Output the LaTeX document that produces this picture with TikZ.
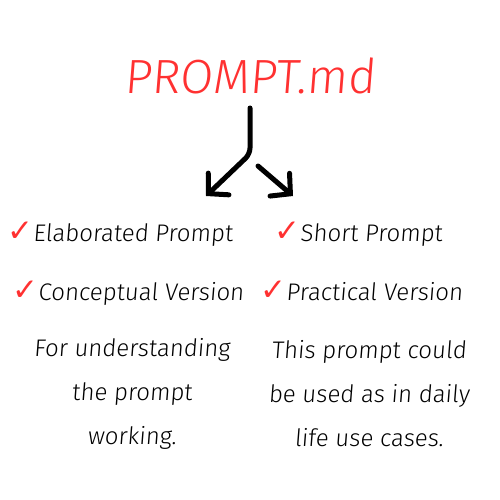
\documentclass[tikz,border=0pt]{standalone}
\usepackage{fontspec}
\usepackage{xcolor}
\setmainfont{Fira Sans Light}[FakeSlant=0.08]
\newfontfamily\checkfont{DejaVu Sans}
\usetikzlibrary{arrows.meta,positioning}

\definecolor{markred}{HTML}{FF3131}

\begin{document}
\begin{tikzpicture}[
    x=1pt, y=-1pt,
    heading/.style={font=\fontsize{48}{52}\selectfont, text=markred},
    item/.style={font=\fontsize{24}{28}\selectfont, inner sep=0pt, anchor=base west},
    note/.style={font=\fontsize{24}{44}\selectfont, align=center, inner sep=0pt},
    branch/.style={line width=5pt, line cap=round, line join=round, rounded corners=6pt,
                   -{Straight Barb[length=14pt, width=30pt, line width=5pt, line cap=round]}}
]
    \useasboundingbox (0,0) rectangle (500,500);
    \newcommand{\tick}{{\checkfont\color{markred}\bfseries\fontsize{31}{32}\selectfont ✓}}

    % title
    \node[heading] (title) at (250,76) {PROMPT.md};

    % fork
    \coordinate (stem)  at (250,108);
    \coordinate (bend)  at (250,154);
    \coordinate (ltip)  at (206,196);
    \coordinate (rstart) at (258,166);
    \coordinate (rtip)  at (293,196);
    \draw[branch] (stem) -- (bend) -- (ltip);
    \draw[branch] (rstart) -- (rtip);

    % left column
    \node[item] (elab)    at (7,241)  {\tick Elaborated Prompt};
    \node[item] (concept) at (12,300) {\tick Conceptual Version};
    \node[note] (leftnote) at (132,394) {For understanding\\the prompt\\working.};

    % right column
    \node[item] (short)     at (274,241) {\tick Short Prompt};
    \node[item] (practical) at (260,300) {\tick Practical Version};
    \node[note] (rightnote) at (369,394) {This prompt could\\be used as in daily\\life use cases.};
\end{tikzpicture}
\end{document}
